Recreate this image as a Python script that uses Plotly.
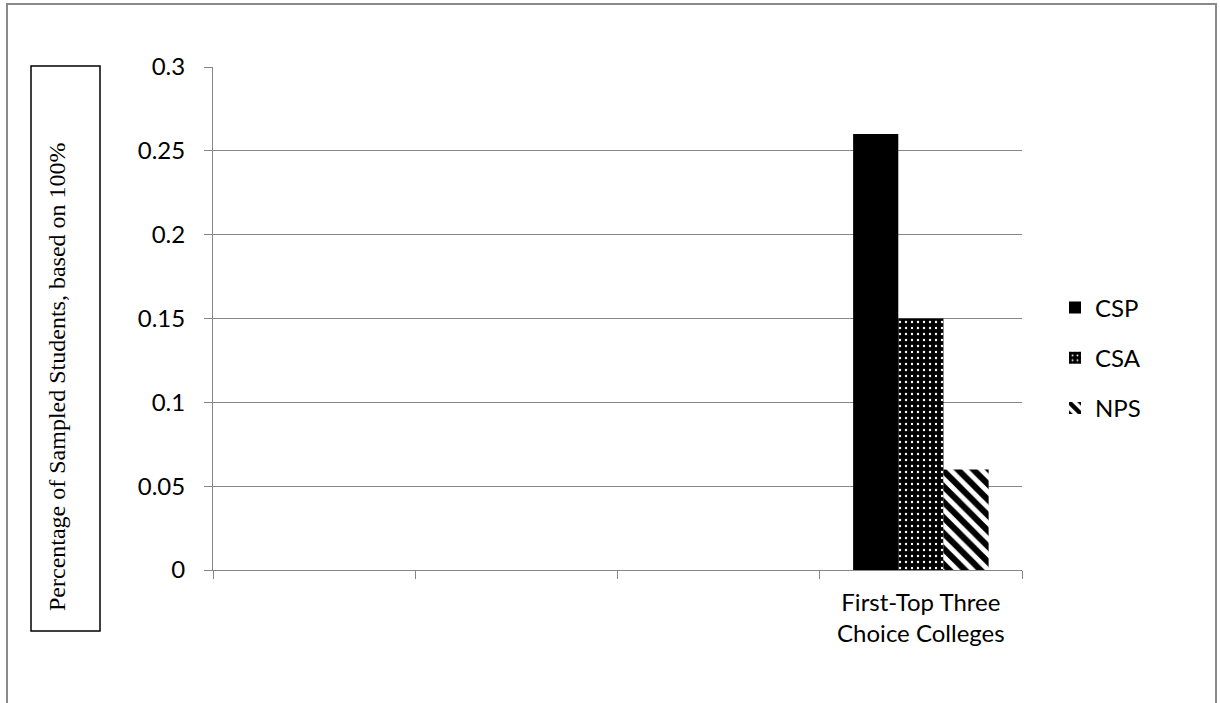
import plotly.graph_objects as go

# Chart data
categories = ["", " ", "  ", "First-Top Three<br>Choice Colleges"]
series_names = ["CSP", "CSA", "NPS"]
csp_values = [None, None, None, 0.26]
csa_values = [None, None, None, 0.15]
nps_values = [None, None, None, 0.06]
y_tick_values = [0, 0.05, 0.1, 0.15, 0.2, 0.25, 0.3]
y_tick_labels = ["0", "0.05", "0.1", "0.15", "0.2", "0.25", "0.3"]
y_title = "Percentage of Sampled Students, based on 100%"

W, H = 1220, 703
L, R, T, B = 213, 1022, 67, 570  # plot area in pixels

def px_x(p):
    return (p - L) / (R - L)

def px_y(p):
    return (B - p) / (B - T)

sans = "Lato, 'Open Sans', sans-serif"
serif = "'Liberation Serif', 'Times New Roman', serif"
grid = "#868686"

patterns = [
    dict(shape=""),
    dict(shape=".", bgcolor="black", fgcolor="white", fgopacity=1, size=6,
         solidity=0.12, fillmode="overlay"),
    dict(shape="\\", bgcolor="white", fgcolor="black", fgopacity=1, size=11,
         solidity=0.55, fillmode="overlay"),
]
values = [csp_values, csa_values, nps_values]
colors = ["black", "black", "white"]

fig = go.Figure()
for i, (name, vals) in enumerate(zip(series_names, values)):
    fig.add_trace(go.Bar(
        x=categories, y=vals, name=name, legendgroup=name,
        marker=dict(color=colors[i], line=dict(width=0), pattern=patterns[i]),
    ))

fig.update_layout(
    width=W, height=H,
    margin=dict(l=L, r=W - R, t=T, b=H - B, pad=0),
    paper_bgcolor="white", plot_bgcolor="white",
    barmode="group", bargap=0.33, bargroupgap=0,
    font=dict(family=sans, size=24, color="black"),
    showlegend=True,
    legend=dict(
        x=px_x(1055), xanchor="left", y=px_y(358), yanchor="middle",
        traceorder="grouped", tracegroupgap=16,
        font=dict(family=sans, size=24, color="black"),
        bgcolor="rgba(0,0,0,0)",
    ),
    xaxis=dict(
        type="category", categoryorder="array", categoryarray=categories,
        range=[-0.5, 3.5], tickson="boundaries",
        ticks="outside", ticklen=8, tickcolor=grid, tickwidth=1,
        showline=True, linecolor=grid, linewidth=1,
        showgrid=False, zeroline=False, ticklabelstandoff=11,
        tickfont=dict(family=sans, size=24, color="black"),
    ),
    yaxis=dict(
        range=[0, 0.3], tickvals=y_tick_values, ticktext=y_tick_labels,
        ticks="outside", ticklen=8, tickcolor=grid, tickwidth=1,
        showline=True, linecolor=grid, linewidth=1,
        showgrid=True, gridcolor=grid, gridwidth=1,
        zeroline=False, ticklabelstandoff=14,
        tickfont=dict(family=sans, size=24, color="black"),
    ),
    shapes=[
        # outer chart frame
        dict(type="rect", xref="paper", yref="paper",
             x0=px_x(7), x1=px_x(1216), y0=px_y(720), y1=px_y(4),
             line=dict(color="#898989", width=2), fillcolor="rgba(0,0,0,0)", layer="below"),
        # box around the axis title
        dict(type="rect", xref="paper", yref="paper",
             x0=px_x(31), x1=px_x(100), y0=px_y(631), y1=px_y(66),
             line=dict(color="black", width=1.5), fillcolor="rgba(0,0,0,0)"),
    ],
    annotations=[
        dict(text=y_title, xref="paper", yref="paper",
             x=px_x(57), y=px_y(377), xanchor="center", yanchor="middle",
             textangle=-90, showarrow=False,
             font=dict(family=serif, size=24, color="black")),
    ],
)

fig.write_html("out.html")
